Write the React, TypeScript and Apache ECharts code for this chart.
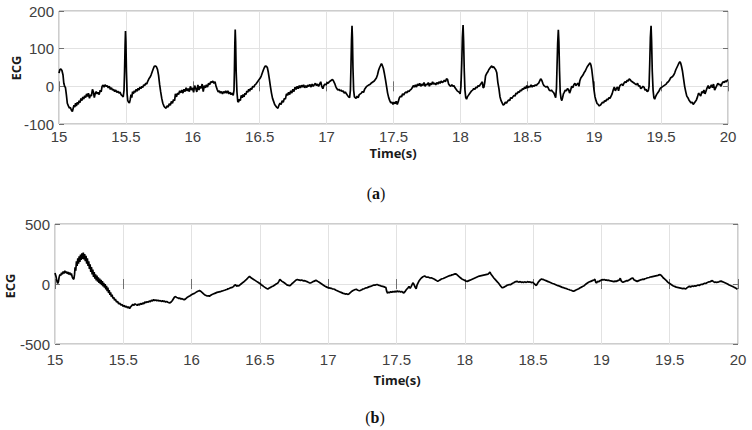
import React, { useEffect, useRef } from "react";
import * as echarts from "echarts";

const xTicks = [15, 15.5, 16, 16.5, 17, 17.5, 18, 18.5, 19, 19.5, 20];
const yTicksTop = [-100, 0, 100, 200];
const yTicksBottom = [-500, 0, 500];
const xName = "Time(s)";
const yName = "ECG";
const panelLabels = ["a", "b"];

const topSignal: [number, number][] = [
  [15.000, 35], [15.006, 44], [15.014, 46], [15.022, 42], [15.030, 30], [15.036, 8], [15.042, 0], [15.048, -3],
  [15.055, -22], [15.062, -45], [15.070, -52], [15.078, -58], [15.085, -56], [15.092, -63], [15.100, -67], [15.106, -58],
  [15.112, -50], [15.118, -55], [15.124, -45], [15.130, -52], [15.137, -42], [15.144, -48], [15.150, -38], [15.157, -43],
  [15.164, -32], [15.171, -38], [15.178, -28], [15.185, -34], [15.192, -25], [15.199, -30], [15.206, -20], [15.213, -27],
  [15.220, -18], [15.228, -32], [15.235, -22], [15.242, -26], [15.250, -8], [15.257, -15], [15.264, -30], [15.270, -20],
  [15.278, -14], [15.285, -20], [15.292, -16], [15.300, -22], [15.308, -10], [15.315, -15], [15.322, 0], [15.330, 3],
  [15.337, -2], [15.344, 4], [15.352, 0], [15.360, 2], [15.368, -4], [15.376, 0], [15.384, -8], [15.392, -4],
  [15.400, -10], [15.408, -8], [15.416, -14], [15.424, -10], [15.432, -16], [15.440, -13], [15.448, -18], [15.456, -15],
  [15.464, -22], [15.472, -25], [15.480, -28], [15.486, -10], [15.490, 40], [15.494, 110], [15.497, 147], [15.500, 120],
  [15.504, 40], [15.509, -20], [15.514, -38], [15.520, -42], [15.526, -44], [15.532, -36], [15.538, -22], [15.544, -30],
  [15.550, -14], [15.556, -20], [15.563, -12], [15.570, -16], [15.577, -8], [15.584, -13], [15.591, -5], [15.598, -10],
  [15.605, -2], [15.612, -6], [15.619, 0], [15.626, -3], [15.633, 4], [15.640, 2], [15.648, 8], [15.656, 6],
  [15.664, 14], [15.672, 20], [15.680, 24], [15.688, 30], [15.696, 38], [15.704, 46], [15.712, 53], [15.720, 54],
  [15.728, 52], [15.736, 45], [15.744, 30], [15.752, 5], [15.760, -15], [15.768, -32], [15.776, -45], [15.784, -52],
  [15.792, -56], [15.800, -58], [15.808, -52], [15.816, -55], [15.824, -46], [15.832, -50], [15.840, -40], [15.848, -45],
  [15.856, -35], [15.864, -38], [15.870, -20], [15.878, -28], [15.886, -18], [15.894, -22], [15.902, -12], [15.910, -17],
  [15.918, -10], [15.926, -18], [15.934, -8], [15.942, -14], [15.950, -4], [15.958, -12], [15.966, -6], [15.974, -14],
  [15.982, 0], [15.990, -10], [15.998, -4], [16.006, -16], [16.014, 2], [16.022, -6], [16.030, -15], [16.038, 4],
  [16.046, -10], [16.054, 0], [16.062, -5], [16.070, 6], [16.078, -14], [16.086, 2], [16.094, -4], [16.102, 4],
  [16.110, -2], [16.118, 8], [16.126, 4], [16.134, 12], [16.142, 10], [16.150, 14], [16.158, 8], [16.166, 12],
  [16.174, 0], [16.182, -8], [16.190, -15], [16.198, -12], [16.206, -18], [16.214, -14], [16.222, -20], [16.230, -14],
  [16.238, -18], [16.246, -12], [16.254, -18], [16.262, -12], [16.270, -20], [16.278, -16], [16.286, -22], [16.294, -18],
  [16.302, -24], [16.308, -10], [16.311, 40], [16.314, 110], [16.317, 151], [16.320, 120], [16.324, 40], [16.330, -15],
  [16.336, -40], [16.342, -42], [16.348, -34], [16.355, -38], [16.362, -24], [16.369, -30], [16.376, -22], [16.383, -28],
  [16.390, -18], [16.397, -22], [16.404, -12], [16.411, -16], [16.418, -8], [16.425, -13], [16.432, -5], [16.440, -8],
  [16.448, 0], [16.456, -2], [16.464, 4], [16.472, 6], [16.480, 10], [16.488, 14], [16.496, 18], [16.504, 22],
  [16.512, 28], [16.520, 36], [16.528, 44], [16.535, 50], [16.542, 54], [16.550, 53], [16.557, 50], [16.564, 38],
  [16.572, 20], [16.580, 0], [16.588, -18], [16.596, -32], [16.604, -40], [16.612, -48], [16.620, -52], [16.628, -56],
  [16.636, -58], [16.644, -50], [16.652, -45], [16.660, -48], [16.668, -38], [16.676, -42], [16.684, -32], [16.692, -34],
  [16.700, -20], [16.708, -24], [16.716, -16], [16.724, -22], [16.732, -12], [16.740, -18], [16.748, -8], [16.756, -14],
  [16.764, -2], [16.772, -8], [16.780, 0], [16.788, -6], [16.796, 2], [16.804, -4], [16.812, 3], [16.820, -2],
  [16.828, 4], [16.836, -4], [16.844, 2], [16.852, -3], [16.860, 3], [16.868, 0], [16.876, 5], [16.884, -2],
  [16.892, 6], [16.900, 0], [16.908, 4], [16.916, 8], [16.924, 2], [16.932, 6], [16.940, 0], [16.948, 6],
  [16.956, 12], [16.964, 0], [16.972, -6], [16.980, 2], [16.988, 6], [16.996, 4], [17.004, 10], [17.012, 8],
  [17.020, 12], [17.028, 14], [17.036, 16], [17.044, 18], [17.052, 14], [17.060, 8], [17.068, 0], [17.076, -6],
  [17.084, -10], [17.092, -8], [17.100, -12], [17.108, -10], [17.116, -14], [17.124, -12], [17.132, -18], [17.140, -15],
  [17.148, -20], [17.156, -24], [17.164, -28], [17.172, -30], [17.178, -10], [17.182, 50], [17.186, 120], [17.190, 161],
  [17.193, 130], [17.197, 50], [17.202, -10], [17.208, -28], [17.214, -30], [17.220, -32], [17.228, -26], [17.236, -30],
  [17.244, -22], [17.252, -20], [17.260, -18], [17.268, -14], [17.276, -16], [17.284, -8], [17.292, -4], [17.300, 0],
  [17.308, 2], [17.316, 4], [17.324, 5], [17.332, 8], [17.340, 10], [17.348, 12], [17.356, 14], [17.364, 18],
  [17.372, 22], [17.380, 30], [17.388, 42], [17.396, 50], [17.404, 56], [17.410, 60], [17.416, 56], [17.424, 48],
  [17.432, 34], [17.440, 18], [17.448, 0], [17.456, -18], [17.464, -30], [17.472, -38], [17.480, -44], [17.488, -42],
  [17.496, -48], [17.504, -42], [17.512, -46], [17.520, -40], [17.528, -48], [17.536, -40], [17.544, -30], [17.552, -26],
  [17.560, -28], [17.568, -20], [17.576, -23], [17.584, -18], [17.592, -15], [17.600, -17], [17.608, -12], [17.616, -14],
  [17.624, -10], [17.632, -8], [17.640, -4], [17.648, 2], [17.656, -2], [17.664, 4], [17.672, -2], [17.680, 6],
  [17.688, 2], [17.696, 8], [17.704, 0], [17.712, 6], [17.720, 2], [17.728, 10], [17.736, 0], [17.744, 6],
  [17.752, 4], [17.760, 10], [17.768, 0], [17.776, 8], [17.784, 4], [17.792, 12], [17.800, 6], [17.808, 8],
  [17.816, 4], [17.824, 10], [17.832, 6], [17.840, 12], [17.848, 8], [17.856, 14], [17.864, 10], [17.872, 12],
  [17.880, 16], [17.888, 12], [17.896, 20], [17.904, 18], [17.912, 6], [17.920, 2], [17.928, 0], [17.936, 4],
  [17.944, 0], [17.952, 2], [17.960, -4], [17.968, -8], [17.976, -12], [17.984, -14], [17.992, -16], [17.998, -20],
  [18.004, 0], [18.010, 60], [18.015, 130], [18.020, 163], [18.024, 120], [18.029, 40], [18.034, -10], [18.040, -30],
  [18.046, -34], [18.052, -28], [18.060, -24], [18.068, -20], [18.076, -16], [18.084, -12], [18.092, -10], [18.100, -6],
  [18.108, -8], [18.116, -2], [18.124, -4], [18.132, 2], [18.140, 0], [18.148, 4], [18.156, 8], [18.164, 12],
  [18.170, -4], [18.176, -2], [18.182, 10], [18.188, 28], [18.196, 34], [18.204, 38], [18.212, 44], [18.220, 48],
  [18.228, 52], [18.234, 54], [18.240, 50], [18.248, 52], [18.256, 48], [18.264, 44], [18.272, 36], [18.280, 10],
  [18.288, -6], [18.296, -28], [18.304, -38], [18.312, -44], [18.320, -50], [18.328, -48], [18.336, -42], [18.344, -45],
  [18.352, -40], [18.360, -36], [18.368, -38], [18.376, -30], [18.384, -32], [18.392, -28], [18.400, -24], [18.408, -26],
  [18.416, -18], [18.424, -20], [18.432, -14], [18.440, -16], [18.448, -10], [18.456, -12], [18.464, -6], [18.472, -8],
  [18.480, -2], [18.488, -6], [18.496, 2], [18.504, -4], [18.512, 0], [18.520, -2], [18.528, 4], [18.536, -2],
  [18.544, 2], [18.552, 0], [18.560, 4], [18.568, 2], [18.576, 6], [18.584, 8], [18.592, 14], [18.600, 20],
  [18.608, 16], [18.616, 8], [18.624, 2], [18.632, 0], [18.640, -2], [18.648, 0], [18.656, -4], [18.664, -10],
  [18.672, -12], [18.680, -10], [18.688, -14], [18.696, -16], [18.704, -22], [18.712, -30], [18.718, -5], [18.722, 50],
  [18.727, 115], [18.732, 150], [18.736, 118], [18.741, 40], [18.746, -15], [18.752, -32], [18.758, -38], [18.764, -30],
  [18.770, -20], [18.776, -16], [18.784, -10], [18.792, -12], [18.800, -6], [18.808, -8], [18.816, -18], [18.824, -10],
  [18.832, 0], [18.840, -4], [18.848, 4], [18.856, 8], [18.864, 2], [18.872, 6], [18.880, 8], [18.886, 0],
  [18.892, 14], [18.900, 22], [18.908, 26], [18.916, 30], [18.924, 36], [18.932, 40], [18.940, 46], [18.948, 52],
  [18.956, 56], [18.964, 60], [18.970, 62], [18.976, 56], [18.982, 44], [18.990, 20], [18.998, -8], [19.006, -28],
  [19.014, -38], [19.022, -46], [19.030, -48], [19.038, -52], [19.046, -50], [19.054, -46], [19.062, -42], [19.070, -44],
  [19.078, -38], [19.086, -40], [19.094, -34], [19.102, -36], [19.110, -30], [19.118, -32], [19.126, -26], [19.134, -20],
  [19.142, -10], [19.150, -2], [19.158, -12], [19.166, -6], [19.174, -2], [19.182, -12], [19.190, 0], [19.198, 4],
  [19.206, 6], [19.214, 2], [19.222, 8], [19.230, 12], [19.238, 10], [19.246, 16], [19.254, 14], [19.262, 20],
  [19.268, 18], [19.276, 14], [19.284, 12], [19.292, 10], [19.300, 8], [19.308, 6], [19.316, 4], [19.324, 8],
  [19.332, 0], [19.340, 2], [19.348, -6], [19.356, -4], [19.364, 0], [19.372, -2], [19.380, -10], [19.388, -8],
  [19.396, -14], [19.404, -12], [19.410, 0], [19.415, 60], [19.420, 130], [19.425, 161], [19.429, 120], [19.434, 40],
  [19.440, -10], [19.446, -30], [19.452, -34], [19.458, -28], [19.466, -22], [19.474, -18], [19.482, -14], [19.490, -8],
  [19.498, -4], [19.506, -2], [19.514, 0], [19.522, 2], [19.530, 4], [19.538, 6], [19.546, 10], [19.554, 12],
  [19.562, 16], [19.570, 22], [19.578, 24], [19.586, 26], [19.594, 30], [19.602, 36], [19.610, 44], [19.618, 50],
  [19.626, 56], [19.634, 62], [19.640, 65], [19.646, 62], [19.652, 54], [19.660, 40], [19.668, 20], [19.676, 0],
  [19.684, -14], [19.692, -26], [19.700, -30], [19.708, -36], [19.716, -40], [19.724, -44], [19.732, -42], [19.740, -48],
  [19.748, -44], [19.756, -40], [19.764, -36], [19.772, -28], [19.780, -18], [19.788, -22], [19.796, -26], [19.804, -14],
  [19.812, -18], [19.820, -10], [19.828, -20], [19.836, -12], [19.844, -4], [19.852, 2], [19.860, -6], [19.868, -2],
  [19.876, 4], [19.884, -4], [19.892, 6], [19.900, -10], [19.908, -4], [19.916, 2], [19.924, 8], [19.932, 4],
  [19.940, 6], [19.948, 0], [19.956, 8], [19.964, 12], [19.972, 10], [19.980, 14], [19.988, 12], [19.996, 16],
  [20.000, 18],
];

const bottomSignal: [number, number][] = [
  [15.000, 92], [15.008, 60], [15.015, 20], [15.020, 5], [15.025, 20], [15.030, 55], [15.036, 80], [15.042, 70],
  [15.048, 95], [15.054, 80], [15.060, 105], [15.066, 88], [15.072, 110], [15.078, 92], [15.084, 105], [15.090, 85],
  [15.096, 100], [15.102, 80], [15.108, 95], [15.114, 75], [15.120, 88], [15.126, 60], [15.132, 45], [15.138, 40],
  [15.143, 80], [15.147, 140], [15.152, 110], [15.157, 190], [15.162, 150], [15.167, 215], [15.172, 170], [15.177, 230],
  [15.182, 185], [15.187, 245], [15.192, 200], [15.197, 255], [15.202, 210], [15.207, 262], [15.212, 205], [15.217, 250],
  [15.222, 190], [15.227, 235], [15.232, 170], [15.237, 215], [15.242, 150], [15.247, 190], [15.252, 125], [15.257, 165],
  [15.262, 100], [15.267, 140], [15.272, 80], [15.277, 120], [15.282, 60], [15.287, 100], [15.292, 45], [15.297, 80],
  [15.302, 30], [15.307, 70], [15.312, 20], [15.317, 55], [15.322, 10], [15.327, 45], [15.332, 0], [15.337, 35],
  [15.342, -10], [15.347, 25], [15.352, -20], [15.357, 10], [15.362, -30], [15.367, 0], [15.372, -45], [15.377, -15],
  [15.382, -60], [15.387, -30], [15.392, -75], [15.397, -50], [15.402, -90], [15.407, -70], [15.412, -105], [15.418, -90],
  [15.424, -120], [15.430, -110], [15.436, -135], [15.442, -125], [15.450, -150], [15.458, -145], [15.466, -165], [15.474, -160],
  [15.482, -175], [15.490, -170], [15.498, -185], [15.506, -180], [15.514, -192], [15.522, -185], [15.530, -198], [15.538, -190],
  [15.546, -205], [15.554, -190], [15.562, -180], [15.570, -170], [15.578, -178], [15.586, -165], [15.594, -172], [15.602, -178],
  [15.610, -168], [15.618, -175], [15.626, -162], [15.634, -170], [15.642, -158], [15.650, -165], [15.658, -150], [15.666, -156],
  [15.674, -148], [15.682, -152], [15.690, -142], [15.698, -148], [15.706, -136], [15.714, -142], [15.722, -130], [15.730, -138],
  [15.738, -134], [15.746, -140], [15.754, -136], [15.762, -142], [15.770, -138], [15.778, -145], [15.786, -140], [15.794, -146],
  [15.802, -142], [15.810, -150], [15.818, -146], [15.826, -152], [15.834, -155], [15.842, -158], [15.850, -150], [15.858, -140],
  [15.866, -125], [15.874, -110], [15.882, -105], [15.890, -112], [15.898, -115], [15.906, -120], [15.914, -118], [15.922, -125],
  [15.930, -122], [15.938, -128], [15.946, -130], [15.954, -126], [15.962, -118], [15.970, -110], [15.978, -105], [15.986, -100],
  [15.994, -94], [16.002, -88], [16.010, -82], [16.018, -80], [16.026, -74], [16.034, -68], [16.042, -62], [16.050, -58],
  [16.058, -55], [16.066, -60], [16.074, -68], [16.082, -76], [16.090, -85], [16.098, -92], [16.106, -96], [16.114, -100],
  [16.122, -98], [16.130, -102], [16.138, -96], [16.146, -90], [16.154, -86], [16.162, -82], [16.170, -78], [16.178, -74],
  [16.186, -70], [16.194, -68], [16.202, -66], [16.210, -64], [16.218, -60], [16.226, -58], [16.234, -54], [16.242, -52],
  [16.250, -48], [16.258, -46], [16.266, -40], [16.274, -38], [16.282, -34], [16.290, -30], [16.298, -28], [16.306, -22],
  [16.314, -10], [16.322, -6], [16.330, -20], [16.338, -12], [16.346, -16], [16.354, -8], [16.362, 0], [16.370, 8],
  [16.378, 14], [16.386, 22], [16.394, 30], [16.402, 38], [16.410, 48], [16.418, 58], [16.424, 64], [16.430, 56],
  [16.438, 50], [16.446, 44], [16.454, 38], [16.462, 32], [16.470, 26], [16.478, 20], [16.486, 14], [16.494, 8],
  [16.502, 2], [16.510, -6], [16.518, -12], [16.526, -20], [16.534, -26], [16.542, -32], [16.550, -38], [16.558, -42],
  [16.566, -36], [16.574, -30], [16.582, -26], [16.590, -20], [16.598, -16], [16.606, -10], [16.614, -4], [16.622, 2],
  [16.630, 6], [16.638, 20], [16.646, 38], [16.654, 30], [16.662, 22], [16.670, 16], [16.678, 10], [16.686, 4],
  [16.694, -4], [16.702, -10], [16.710, -12], [16.718, -14], [16.726, -8], [16.734, 2], [16.742, 10], [16.750, 18],
  [16.758, 26], [16.766, 34], [16.774, 38], [16.782, 34], [16.790, 32], [16.798, 30], [16.806, 34], [16.814, 28],
  [16.822, 26], [16.830, 28], [16.838, 22], [16.846, 20], [16.854, 14], [16.862, 10], [16.870, 8], [16.878, 12],
  [16.886, 18], [16.894, 22], [16.902, 26], [16.910, 30], [16.918, 26], [16.926, 20], [16.934, 14], [16.942, 8],
  [16.950, 2], [16.958, -4], [16.966, -10], [16.974, -16], [16.982, -22], [16.990, -26], [16.998, -30], [17.006, -32],
  [17.014, -34], [17.022, -36], [17.030, -40], [17.038, -42], [17.046, -44], [17.054, -50], [17.062, -54], [17.070, -58],
  [17.078, -62], [17.086, -66], [17.094, -70], [17.102, -74], [17.110, -78], [17.118, -80], [17.126, -84], [17.134, -82],
  [17.142, -86], [17.150, -84], [17.158, -76], [17.166, -68], [17.174, -60], [17.182, -54], [17.190, -50], [17.198, -46],
  [17.206, -44], [17.214, -50], [17.222, -54], [17.230, -56], [17.238, -52], [17.246, -48], [17.254, -42], [17.262, -40],
  [17.270, -36], [17.278, -32], [17.286, -30], [17.294, -26], [17.302, -22], [17.310, -20], [17.318, -16], [17.326, -12],
  [17.334, -8], [17.342, -10], [17.350, -6], [17.358, -4], [17.366, -8], [17.374, -12], [17.382, -14], [17.390, -18],
  [17.398, -20], [17.406, -22], [17.414, -26], [17.422, -28], [17.428, -60], [17.434, -76], [17.442, -68], [17.450, -72],
  [17.458, -64], [17.466, -70], [17.474, -62], [17.482, -68], [17.490, -60], [17.498, -66], [17.506, -58], [17.514, -64],
  [17.522, -60], [17.530, -66], [17.538, -62], [17.546, -70], [17.554, -74], [17.562, -64], [17.570, -50], [17.578, -40],
  [17.586, -30], [17.592, -20], [17.600, -36], [17.608, -20], [17.616, 0], [17.622, 10], [17.630, -10], [17.638, -30],
  [17.644, -40], [17.650, -10], [17.658, 10], [17.666, 28], [17.674, 40], [17.682, 50], [17.690, 58], [17.698, 62],
  [17.706, 66], [17.714, 60], [17.722, 56], [17.730, 58], [17.738, 54], [17.746, 50], [17.754, 52], [17.762, 48],
  [17.770, 44], [17.778, 40], [17.786, 34], [17.794, 28], [17.802, 22], [17.810, 28], [17.818, 34], [17.826, 40],
  [17.834, 44], [17.842, 46], [17.850, 50], [17.858, 54], [17.866, 58], [17.874, 62], [17.882, 66], [17.890, 70],
  [17.898, 72], [17.906, 76], [17.914, 78], [17.922, 82], [17.930, 84], [17.938, 82], [17.946, 74], [17.954, 66],
  [17.962, 58], [17.970, 50], [17.978, 42], [17.986, 38], [17.994, 34], [18.002, 28], [18.010, 24], [18.018, 22],
  [18.026, 26], [18.034, 30], [18.042, 34], [18.050, 38], [18.058, 42], [18.066, 46], [18.074, 50], [18.082, 54],
  [18.090, 58], [18.098, 62], [18.106, 66], [18.114, 68], [18.122, 70], [18.130, 72], [18.138, 74], [18.146, 76],
  [18.154, 78], [18.162, 80], [18.170, 82], [18.178, 90], [18.184, 100], [18.190, 86], [18.198, 72], [18.206, 60],
  [18.214, 48], [18.222, 38], [18.230, 28], [18.238, 18], [18.246, 8], [18.254, -4], [18.262, -16], [18.270, -28],
  [18.278, -32], [18.286, -26], [18.294, -22], [18.302, -16], [18.310, -10], [18.318, -8], [18.326, -4], [18.334, -6],
  [18.342, 0], [18.350, 6], [18.358, 10], [18.366, 16], [18.374, 20], [18.382, 22], [18.390, 18], [18.398, 16],
  [18.406, 20], [18.414, 14], [18.422, 16], [18.430, 12], [18.438, 18], [18.446, 14], [18.454, 16], [18.462, 20],
  [18.470, 14], [18.478, 18], [18.486, 12], [18.494, 14], [18.502, 10], [18.510, 0], [18.518, -8], [18.524, -12],
  [18.530, 0], [18.538, 16], [18.546, 26], [18.554, 36], [18.562, 42], [18.570, 38], [18.578, 36], [18.586, 32],
  [18.594, 28], [18.602, 24], [18.610, 20], [18.618, 16], [18.626, 12], [18.634, 8], [18.642, 4], [18.650, 2],
  [18.658, -2], [18.666, -6], [18.674, -10], [18.682, -14], [18.690, -16], [18.698, -20], [18.706, -24], [18.714, -28],
  [18.722, -30], [18.730, -34], [18.738, -36], [18.746, -40], [18.754, -44], [18.762, -46], [18.770, -50], [18.778, -52],
  [18.786, -56], [18.794, -60], [18.802, -58], [18.810, -52], [18.818, -48], [18.826, -44], [18.834, -40], [18.842, -34],
  [18.850, -28], [18.858, -24], [18.866, -18], [18.874, -14], [18.882, -6], [18.890, 2], [18.898, 8], [18.906, 14],
  [18.914, 18], [18.922, 22], [18.930, 26], [18.938, 30], [18.946, 34], [18.952, 40], [18.958, 16], [18.964, 8],
  [18.972, 22], [18.980, 18], [18.988, 26], [18.996, 30], [19.004, 36], [19.012, 34], [19.020, 38], [19.028, 32],
  [19.036, 34], [19.044, 30], [19.052, 32], [19.060, 28], [19.068, 26], [19.076, 24], [19.084, 22], [19.092, 20],
  [19.100, 24], [19.108, 22], [19.116, 26], [19.124, 30], [19.132, 34], [19.138, 48], [19.144, 28], [19.150, 20],
  [19.158, 14], [19.166, 18], [19.174, 22], [19.182, 28], [19.190, 26], [19.198, 30], [19.206, 36], [19.214, 42],
  [19.222, 48], [19.230, 50], [19.238, 36], [19.246, 30], [19.254, 26], [19.262, 22], [19.270, 26], [19.278, 30],
  [19.286, 34], [19.294, 36], [19.302, 40], [19.310, 38], [19.318, 44], [19.326, 46], [19.334, 50], [19.342, 52],
  [19.350, 54], [19.358, 58], [19.366, 60], [19.374, 62], [19.382, 64], [19.390, 66], [19.398, 68], [19.406, 70],
  [19.414, 72], [19.422, 76], [19.430, 78], [19.436, 74], [19.444, 64], [19.452, 52], [19.460, 44], [19.468, 36],
  [19.476, 28], [19.484, 18], [19.492, 10], [19.500, 4], [19.508, -2], [19.516, -8], [19.524, -14], [19.532, -18],
  [19.540, -22], [19.548, -26], [19.556, -28], [19.564, -30], [19.572, -32], [19.580, -34], [19.588, -36], [19.596, -38],
  [19.604, -36], [19.612, -40], [19.620, -38], [19.628, -30], [19.636, -24], [19.644, -20], [19.652, -24], [19.660, -20],
  [19.668, -16], [19.676, -20], [19.684, -14], [19.692, -18], [19.700, -12], [19.708, -8], [19.716, -12], [19.724, -6],
  [19.732, -2], [19.740, -4], [19.748, 2], [19.756, 6], [19.764, 4], [19.772, 10], [19.780, 14], [19.788, 18],
  [19.796, 20], [19.804, 24], [19.812, 28], [19.820, 20], [19.828, 14], [19.836, 16], [19.844, 12], [19.852, 16],
  [19.860, 18], [19.868, 22], [19.876, 24], [19.884, 20], [19.892, 16], [19.900, 12], [19.908, 8], [19.916, 4],
  [19.924, 0], [19.932, -6], [19.940, -10], [19.948, -14], [19.956, -18], [19.964, -22], [19.972, -28], [19.980, -32],
  [19.988, -38], [19.996, -44], [20.000, -47],
];

const LABEL_FONT = "'Liberation Sans', Arial, sans-serif";
const NAME_FONT = "'Open Sans', 'Noto Sans', sans-serif";
const TICK_COLOR = "#404040";
const GRID_LINE = "#e2e2e2";
const BORDER = "#9a9a9a";

function axisPair(kind: "x" | "y", gridIndex: number, ticks: number[], labelMargin: number) {
  const min = ticks[0];
  const max = ticks[ticks.length - 1];
  const interval = ticks[1] - ticks[0];
  const base = {
    type: "value",
    gridIndex,
    min,
    max,
    interval,
    axisLine: { show: false },
    axisTick: { show: true, inside: true, length: 5, lineStyle: { color: "#707070", width: 1 } },
  };
  const main = {
    ...base,
    position: kind === "x" ? "bottom" : "left",
    splitLine: { show: true, lineStyle: { color: GRID_LINE, width: 1 } },
    axisLabel: {
      show: true,
      margin: labelMargin,
      fontSize: 15,
      color: TICK_COLOR,
      fontFamily: LABEL_FONT,
      showMinLabel: true,
      showMaxLabel: true,
    },
  };
  const mirror = {
    ...base,
    position: kind === "x" ? "top" : "right",
    splitLine: { show: false },
    axisLabel: { show: false },
  };
  return [main, mirror];
}

export default function App() {
  const ref = useRef<HTMLDivElement>(null);

  useEffect(() => {
    if (!ref.current) return;
    const chart = echarts.init(ref.current, null, { renderer: "svg" });

    const nameStyle = (text: string) => ({
      text,
      fontFamily: NAME_FONT,
      fontWeight: "bold",
      fontSize: 13,
      fill: "#1a1a1a",
      textAlign: "center",
      textVerticalAlign: "middle",
    });
    const panelStyle = (letter: string) => ({
      text: "({b|" + letter + "})",
      fontFamily: "'Liberation Serif', 'Times New Roman', serif",
      fontSize: 16,
      fill: "#111",
      textAlign: "center",
      textVerticalAlign: "middle",
      rich: { b: { fontWeight: "bold", fontSize: 16, fontFamily: "'Liberation Serif', 'Times New Roman', serif", fill: "#111" } },
    });

    const [x0, x0m] = axisPair("x", 0, xTicks, 5);
    const [y0, y0m] = axisPair("y", 0, yTicksTop, 5);
    const [x1, x1m] = axisPair("x", 1, xTicks, 8);
    const [y1, y1m] = axisPair("y", 1, yTicksBottom, 5);

    chart.setOption({
      animation: false,
      backgroundColor: "#ffffff",
      grid: [
        { left: 59, right: 24, top: 11, height: 113, show: true, borderColor: BORDER, borderWidth: 1, backgroundColor: "transparent" },
        { left: 55, right: 14, top: 224, height: 120, show: true, borderColor: BORDER, borderWidth: 1, backgroundColor: "transparent" },
      ],
      xAxis: [x0, x0m, x1, x1m],
      yAxis: [y0, y0m, y1, y1m],
      series: [
        {
          type: "line",
          xAxisIndex: 0,
          yAxisIndex: 0,
          data: topSignal,
          symbol: "none",
          showSymbol: false,
          lineStyle: { color: "#000", width: 1.7 },
          z: 5,
        },
        {
          type: "line",
          xAxisIndex: 2,
          yAxisIndex: 2,
          data: bottomSignal,
          symbol: "none",
          showSymbol: false,
          lineStyle: { color: "#000", width: 1.7 },
          z: 5,
        },
      ],
      graphic: [
        { type: "text", x: 15.5, y: 68, rotation: Math.PI / 2, style: nameStyle(yName) },
        { type: "text", x: 393, y: 153, style: nameStyle(xName) },
        { type: "text", x: 376, y: 193, style: panelStyle(panelLabels[0]) },
        { type: "text", x: 10, y: 286, rotation: Math.PI / 2, style: nameStyle(yName) },
        { type: "text", x: 397, y: 380, style: nameStyle(xName) },
        { type: "text", x: 375, y: 417, style: panelStyle(panelLabels[1]) },
      ],
    });

    return () => chart.dispose();
  }, []);

  return (
    <div
      ref={ref}
      style={{ position: "fixed", left: 0, top: 0, width: 752, height: 430, background: "#fff" }}
    />
  );
}
